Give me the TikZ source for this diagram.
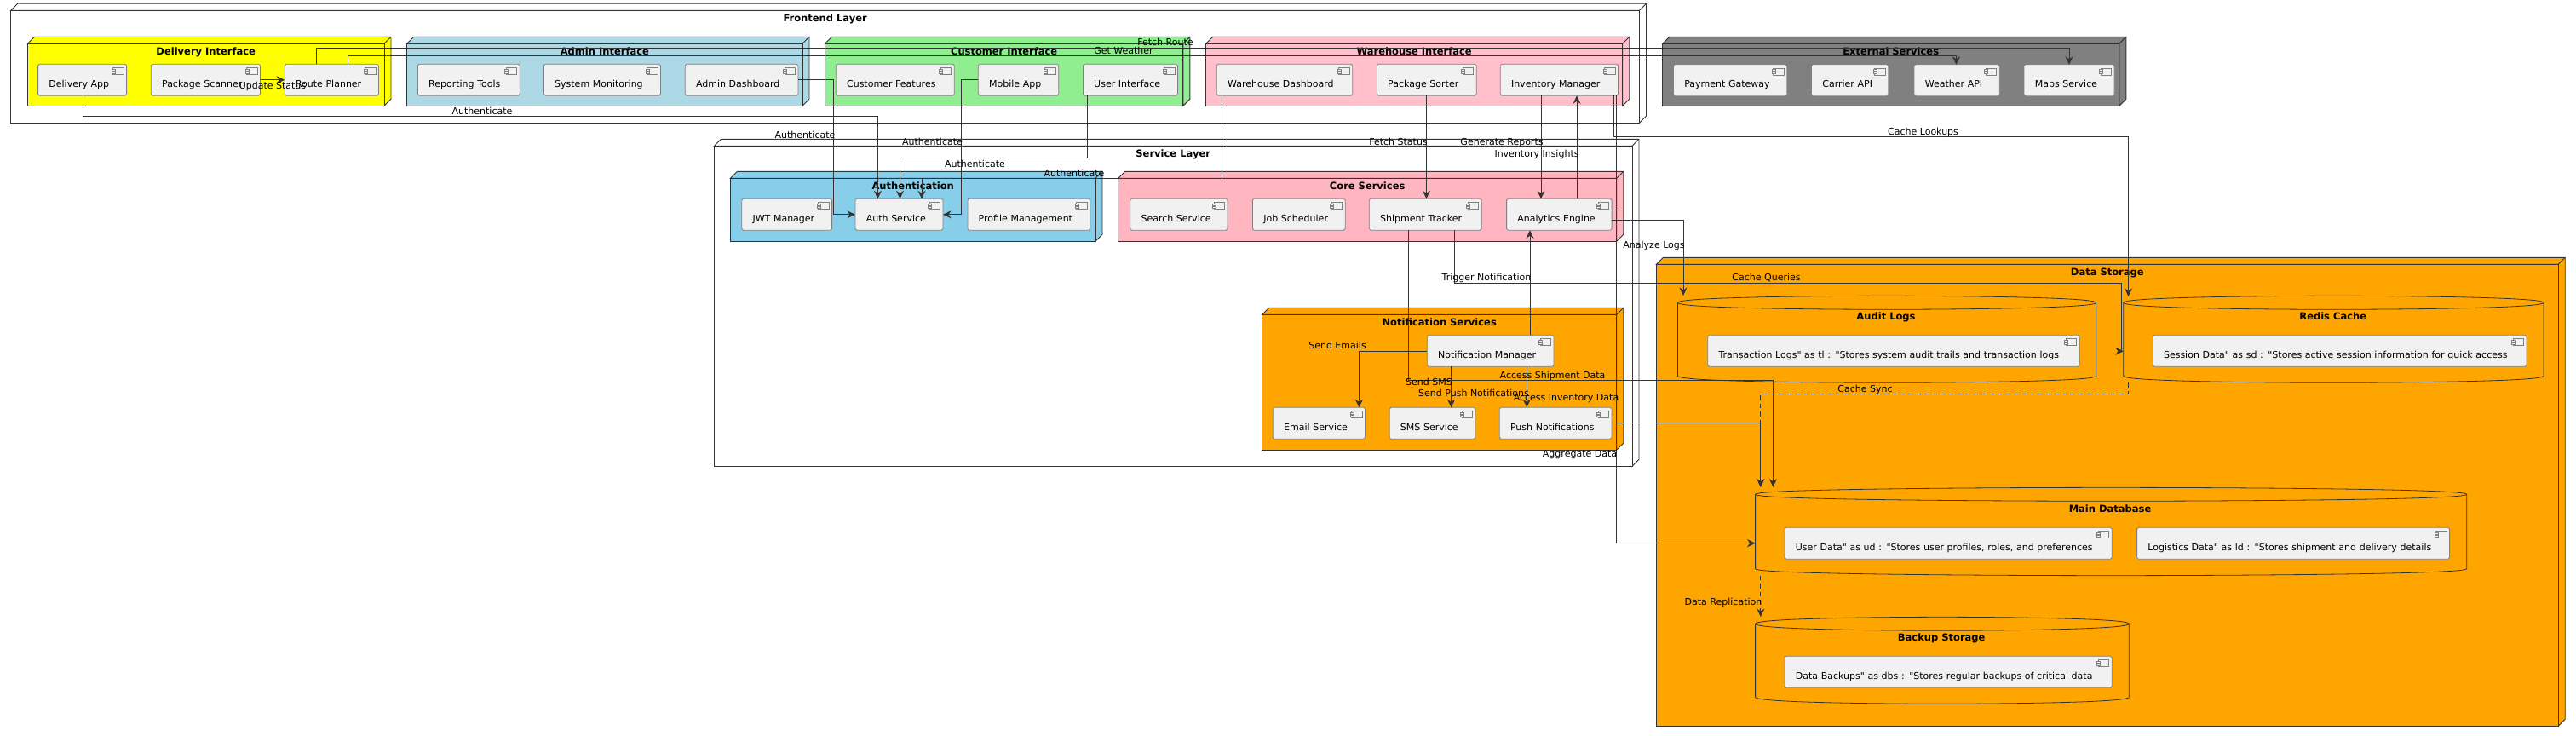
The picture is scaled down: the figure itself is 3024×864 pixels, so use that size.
\documentclass[tikz,border=0pt]{standalone}
\usepackage{fontspec}
\usetikzlibrary{arrows.meta}
\newfontfamily\umlfont{DejaVu Sans}
\definecolor{umlline}{HTML}{333333}
\definecolor{umlgrey}{HTML}{F1F1F1}
\definecolor{umlpink}{HTML}{FFC0CB}
\definecolor{umlrose}{HTML}{FFB6C1}
\definecolor{umlblue}{HTML}{ADD8E6}
\definecolor{umlsky}{HTML}{87CEEB}
\definecolor{umlgreen}{HTML}{90EE90}
\definecolor{umlorange}{HTML}{FFA500}
\definecolor{umlyellow}{HTML}{FFFF00}
\definecolor{umlgray}{HTML}{808080}
\tikzset{
  frame/.style={draw=umlline,line width=0.9pt,line join=miter},
  nodebox/.style={frame,rectangle,inner sep=0pt,outer sep=0pt,font=\umlfont\bfseries\fontsize{11.5}{13}\selectfont},
  compbox/.style={draw=umlgray,line width=0.8pt,fill=umlgrey,rounded corners=1.8pt,rectangle,inner xsep=12.8pt,inner ysep=0pt,outer sep=0pt,minimum height=37pt,text height=27pt,text depth=10pt,align=left,font=\umlfont\fontsize{11}{13}\selectfont},
  iconline/.style={draw=umlgray,line width=0.7pt,fill=umlgrey},
  cylline/.style={draw=umlline,line width=0.8pt},
  cyltitle/.style={font=\umlfont\bfseries\fontsize{11.5}{13}\selectfont,inner sep=0pt,text height=11pt,text depth=2pt},
  flow/.style={draw=umlline,line width=0.9pt,-{Stealth[length=9.5pt,width=9pt,inset=3pt]}},
  syncflow/.style={flow,dash pattern=on 5.5pt off 4pt},
  flowlabel/.style={font=\umlfont\fontsize{11}{13}\selectfont,inner sep=0pt,text height=11pt,text depth=2pt,text=black},
}
% name, x1, y1, x2, y2, fill, title
\newcommand{\nodebox}[7]{%
  \pgfmathsetmacro{\boxw}{#4-#2}\pgfmathsetmacro{\boxh}{#5-#3}\pgfmathsetmacro{\boxd}{#5-#3-13.5}%
  \draw[frame,fill=#6] (#2,#3) -- ++(8,-8) -- (#4+8,#3-8) -- (#4+8,#5-8) -- (#4,#5) -- (#4,#3) -- cycle;
  \draw[frame] (#4,#3) -- ++(8,-8);
  \node[nodebox,fill=#6,minimum width=\boxw pt,minimum height=\boxh pt,text height=13.5pt,text depth=\boxd pt] (#1) at ({(#2+#4)/2},{(#3+#5)/2}) {#7};
}
% name, x1, y1, x2, text
\newcommand{\comp}[5]{%
  \pgfmathsetmacro{\boxw}{#4-#2}\pgfmathsetmacro{\boxt}{#4-#2-25.6}%
  \node[compbox,minimum width=\boxw pt,text width=\boxt pt] (#1) at ({(#2+#4)/2},#3+18.5) {#5};
  \draw[iconline] (#4-16,#3+4.4) rectangle (#4-3.5,#3+12.4);
  \draw[iconline] (#4-17.5,#3+5.8) rectangle (#4-13.5,#3+7.8);
  \draw[iconline] (#4-17.5,#3+9) rectangle (#4-13.5,#3+11);
}
% x1, y1, x2, y2
\newcommand{\cyl}[4]{%
  \draw[cylline] (#1,#2+8) .. controls (#1,#2) and ({(#1+#3)/2},#2) .. ({(#1+#3)/2},#2) .. controls ({(#1+#3)/2},#2) and (#3,#2) .. (#3,#2+8) -- (#3,#4-8) .. controls (#3,#4) and ({(#1+#3)/2},#4) .. ({(#1+#3)/2},#4) .. controls ({(#1+#3)/2},#4) and (#1,#4) .. (#1,#4-8) -- cycle;
  \draw[cylline] (#1,#2+8) .. controls (#1,#2+16) and ({(#1+#3)/2},#2+16) .. ({(#1+#3)/2},#2+16) .. controls ({(#1+#3)/2},#2+16) and (#3,#2+16) .. (#3,#2+8);
}
\begin{document}
\begin{tikzpicture}[x=1pt,y=-1pt]
\useasboundingbox (0,0) rectangle (3024,864);
% frontend
\nodebox{frontend}{12.8}{12.3}{1924.5}{144.3}{white}{Frontend Layer}
\nodebox{delivery}{32.5}{51.3}{451}{124.3}{umlyellow}{Delivery Interface}
\comp{deliveryapp}{44.6}{75.3}{148.6}{Delivery App}
\comp{packagescanner}{177.3}{75.3}{305.5}{Package Scanner}
\comp{routeplanner}{334.2}{75.3}{444.5}{Route Planner}
\nodebox{admin}{477.7}{51.3}{942}{124.3}{umlblue}{Admin Interface}
\comp{reportingtools}{490.4}{75.3}{610.3}{Reporting Tools}
\comp{sysmonitoring}{638.4}{75.3}{775.5}{System Monitoring}
\comp{admindashboard}{804.2}{75.3}{936.9}{Admin Dashboard}
\nodebox{customer}{968.5}{51.3}{1388.8}{124.3}{umlgreen}{Customer Interface}
\comp{custfeatures}{981.3}{75.3}{1120.3}{Customer Features}
\comp{mobileapp}{1148.3}{75.3}{1242.7}{Mobile App}
\comp{userinterface}{1271.4}{75.3}{1382.4}{User Interface}
\nodebox{warehouse}{1415.6}{51.3}{1904.7}{124.3}{umlpink}{Warehouse Interface}
\comp{whdashboard}{1428.3}{75.3}{1587.8}{Warehouse Dashboard}
\comp{packagesorter}{1616.4}{75.3}{1733.2}{Package Sorter}
\comp{invmanager}{1761.2}{75.3}{1899.6}{Inventory Manager}
% external
\nodebox{external}{1951.6}{51.3}{2487.8}{124.3}{umlgray}{External Services}
\comp{paygateway}{1964.5}{75.8}{2097.8}{Payment Gateway}
\comp{carrierapi}{2126.5}{75.8}{2216.8}{Carrier API}
\comp{weatherapi}{2247}{75.8}{2347.3}{Weather API}
\comp{mapsservice}{2376}{75.8}{2482}{Maps Service}
% services
\nodebox{services}{838.4}{171.3}{1916}{547.3}{white}{Service Layer}
\nodebox{authn}{857.4}{209.3}{1286}{283.3}{umlsky}{Authentication}
\comp{jwtmanager}{870.7}{233.3}{976.6}{JWT Manager}
\comp{authservice}{1004}{233.3}{1107}{Auth Service}
\comp{profilemgmt}{1135.9}{233.3}{1279.7}{Profile Management}
\nodebox{core}{1312.6}{209.3}{1897.7}{283.3}{umlrose}{Core Services}
\comp{searchservice}{1326.7}{233.3}{1441}{Search Service}
\comp{jobscheduler}{1470.5}{233.3}{1579.2}{Job Scheduler}
\comp{shiptracker}{1607.3}{233.3}{1739.2}{Shipment Tracker}
\comp{analytics}{1768.6}{233.3}{1892.1}{Analytics Engine}
\nodebox{notifs}{1481.7}{369.3}{1897.7}{528.3}{umlorange}{Notification Services}
\comp{notifmanager}{1675.3}{393.3}{1824}{Notification Manager}
\comp{emailservice}{1494.3}{478.3}{1602.4}{Email Service}
\comp{smsservice}{1631.1}{478.3}{1732}{SMS Service}
\comp{pushnotifs}{1760.2}{478.3}{1892}{Push Notifications}
% storage
\nodebox{storage}{1944.4}{310.3}{3003.2}{852.3}{umlorange}{Data Storage}
\cyl{1969.5}{347.3}{2460.6}{449.3}
\node[cyltitle] (auditlogs) at (2214,371.3) {Audit Logs};
\comp{translogs}{2004.7}{393.3}{2441.2}{Transaction Logs" as tl : "Stores system audit trails and transaction logs}
\cyl{2492.8}{347.3}{2986}{449.3}
\node[cyltitle] (rediscache) at (2738.7,371.3) {Redis Cache};
\comp{sessiondata}{2527.2}{393.3}{2966}{Session Data" as sd : "Stores active session information for quick access}
\cyl{2060.6}{572.3}{2895.7}{675.7}
\node[cyltitle] (maindb) at (2477,597) {Main Database};
\comp{userdata}{2095}{619.3}{2479.2}{User Data" as ud : "Stores user profiles, roles, and preferences}
\comp{logisticsdata}{2508.6}{619.3}{2875.6}{Logistics Data" as ld : "Stores shipment and delivery details}
\cyl{2060.6}{724.3}{2499.3}{826.3}
\node[cyltitle] (backup) at (2279.2,748.3) {Backup Storage};
\comp{databackups}{2095}{770.3}{2479.2}{Data Backups" as dbs : "Stores regular backups of critical data}
% connectors
\coordinate (auditin) at (1976,347);
\coordinate (redisin) at (2498.6,348);
\coordinate (dbinA) at (2066.8,571.7);
\coordinate (dbinB) at (2081.4,571.7);
\coordinate (dbleft) at (2060.6,637.7);
\coordinate (redisleft) at (2492.8,412.3);
\coordinate (redisout) at (2498.6,449.3);
\coordinate (dbout) at (2066.8,675.7);
\coordinate (backupin) at (2066.8,724);
\draw[flow] (packagescanner.east) -- (routeplanner.west);
\draw[flow] (97,0 |- deliveryapp.south) -- (97,136.3) -- (1030.4,136.3) -- (1030.4,0 |- authservice.north);
\draw[flow] (admindashboard.east) -| (978.5,200) |- (authservice.west);
\draw[flow] (mobileapp.west) -| (1128.6,200) |- (authservice.east);
\draw[flow] (1276.5,0 |- userinterface.south) -- (1276.5,185.3) -- (1056.5,185.3) -- (1056.5,0 |- authservice.north);
\draw[flow] (1434.7,0 |- whdashboard.south) -- (1434.7,209.3) -- (1082,209.3) -- (1082,0 |- authservice.north);
\draw[flow] (371,0 |- routeplanner.north) -- (371,56.3) -- (2429,56.3) -- (2429,0 |- mapsservice.north);
\draw[flow] (408,0 |- routeplanner.north) -- (408,65.3) -- (2296.4,65.3) -- (2296.4,0 |- weatherapi.north);
\draw[flow] (1674.5,0 |- packagesorter.south) -- (1674.5,0 |- shiptracker.north);
\draw[flow] (1809,0 |- invmanager.south) -- (1809,0 |- analytics.north);
\draw[flow] (1851,0 |- analytics.north) -- (1851,0 |- invmanager.south);
\draw[flow] (1894.8,0 |- invmanager.south) -- (1894.8,160.3) -- (2498.6,160.3) -- (redisin);
\draw[flow] (analytics.east |- 0,258.3) -- (1976,258.3) -- (auditin);
\draw[flow] (analytics.east |- 0,246.3) -- (1897.2,246.3) -- (1897.2,637.7) -- (dbleft);
\draw[flow] (1897.2,0 |- invmanager.south) -- (1897.2,496.7) -- (2066.8,496.7) -- (dbinA);
\draw[flow] (1653.6,0 |- shiptracker.south) -- (1653.6,446.3) -- (2081.4,446.3) -- (dbinB);
\draw[flow] (1707.6,0 |- shiptracker.south) -- (1707.6,332.3) -- (2490,332.3) -- (2490,412.3) -- (redisleft);
\draw[flow] (1796,0 |- notifmanager.north) -- (1796,0 |- analytics.south);
\draw[flow] (notifmanager.west |- 0,412.3) -- (1595.4,412.3) -- (1595.4,0 |- emailservice.north);
\draw[flow] (1703.6,0 |- notifmanager.south) -- (1703.6,0 |- smsservice.north);
\draw[flow] (1792.3,0 |- notifmanager.south) -- (1792.3,0 |- pushnotifs.north);
\draw[syncflow] (redisout) -- (2498.6,462.3) -- (2066.8,462.3) -- (dbinA);
\draw[syncflow] (dbout) -- (backupin);
% labels
\node[flowlabel] (lbstatus) at (320,100) {Update Status};
\node[flowlabel] (lbauthA) at (566,130) {Authenticate};
\node[flowlabel] (lbauthB) at (945,157.7) {Authenticate};
\node[flowlabel] (lbauthC) at (1094.5,166) {Authenticate};
\node[flowlabel] (lbauthD) at (1144.5,192.3) {Authenticate};
\node[flowlabel] (lbauthE) at (1261,203) {Authenticate};
\node[flowlabel] (lbroute) at (1368,49) {Fetch Route};
\node[flowlabel] (lbweather) at (1319,59) {Get Weather};
\node[flowlabel] (lbfetch) at (1641.5,166) {Fetch Status};
\node[flowlabel] (lbreports) at (1763,166) {Generate Reports};
\node[flowlabel] (lbinsights) at (1804,180) {Inventory Insights};
\node[flowlabel] (lblookups) at (2257.5,154) {Cache Lookups};
\node[flowlabel] (lbanalyze) at (1941.5,286.7) {Analyze Logs};
\node[flowlabel] (lbtrigger) at (1745,325.3) {Trigger Notification};
\node[flowlabel] (lbqueries) at (2073.5,325.3) {Cache Queries};
\node[flowlabel] (lbemails) at (1570,405.3) {Send Emails};
\node[flowlabel] (lbshipment) at (1822.5,439.7) {Access Shipment Data};
\node[flowlabel] (lbsms) at (1677.5,447.7) {Send SMS};
\node[flowlabel] (lbpush) at (1730,461) {Send Push Notifications};
\node[flowlabel] (lbinventory) at (1838.5,465.7) {Access Inventory Data};
\node[flowlabel] (lbaggregate) at (1854.5,532.3) {Aggregate Data};
\node[flowlabel] (lbsync) at (2189.5,455.7) {Cache Sync};
\node[flowlabel] (lbreplica) at (2023,706.3) {Data Replication};
\end{tikzpicture}
\end{document}
